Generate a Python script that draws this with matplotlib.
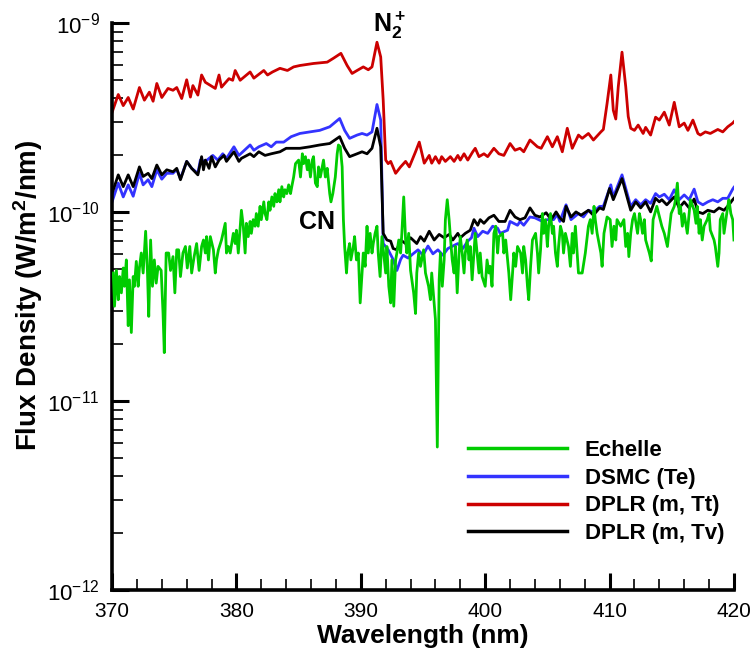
import numpy as np
import matplotlib
matplotlib.use("Agg")
import matplotlib.pyplot as plt
from matplotlib.ticker import MultipleLocator, LogLocator, NullFormatter, FixedLocator, FixedFormatter

plt.rcParams['font.family'] = ['Liberation Sans', 'DejaVu Sans']
plt.rcParams['mathtext.fontset'] = 'custom'
plt.rcParams['mathtext.rm'] = 'Liberation Sans'
plt.rcParams['mathtext.bf'] = 'Liberation Sans:bold'
plt.rcParams['mathtext.it'] = 'Liberation Sans:italic'

UNIT = 1e-10  # all flux values below are in units of 1e-10 W/m^2/nm

# ---------------- DPLR (m, Tt) -- red ----------------
wl_tt = [370.0, 370.5, 370.9, 371.3, 371.7, 372.2, 372.6, 373.0, 373.3, 373.6, 374.0, 374.5, 374.9,
         375.2, 375.6, 376.0, 376.3, 376.5, 376.9, 377.2, 377.5, 378.3, 378.6, 378.8, 379.4, 379.7,
         379.9, 380.3, 381.1, 381.4, 382.2, 382.5, 382.9, 383.5, 384.1, 384.6, 385.1, 386.2, 387.3,
         387.8, 388.4, 388.9, 389.3, 389.7, 390.2, 390.6, 390.9, 391.3, 391.6, 391.8, 392.0, 392.2,
         392.4, 392.8, 393.2, 393.6, 393.9, 394.4, 394.7, 395.1, 395.5, 395.7, 396.0, 396.3, 396.5,
         396.8, 397.2, 397.5, 397.8, 398.0, 398.3, 398.6, 399.0, 399.2, 399.5, 399.9, 400.2, 400.7,
         401.1, 401.5, 402.0, 402.4, 402.8, 403.1, 403.6, 404.2, 404.5, 405.0, 405.4, 405.8, 406.2,
         406.6, 407.0, 407.5, 407.8, 408.3, 408.7, 409.3, 409.5, 409.8, 410.1, 410.3, 410.5, 410.7,
         411.0, 411.3, 411.5, 411.7, 412.0, 412.3, 412.7, 412.9, 413.3, 413.7, 414.0, 414.4, 414.8,
         415.2, 415.6, 416.0, 416.3, 416.7, 417.1, 417.3, 417.7, 418.1, 418.7, 419.1, 419.5, 419.9,
         420.0]
fx_tt = [3.36, 4.18, 3.65, 4.03, 3.5, 4.55, 3.9, 4.3, 3.85, 4.78, 4.03, 4.5, 4.4,
         4.55, 3.98, 5.0, 4.05, 4.66, 4.15, 5.3, 4.85, 4.5, 5.3, 4.57, 5.07, 4.97,
         5.6, 4.97, 5.5, 5.1, 5.6, 5.3, 5.5, 5.75, 5.6, 5.85, 5.95, 6.1, 6.2,
         6.5, 6.9, 5.95, 5.4, 5.6, 5.85, 5.65, 5.85, 7.9, 6.6, 3.9, 1.88, 1.8,
         1.85, 1.6, 1.73, 1.85, 1.73, 2.08, 2.34, 1.81, 1.99, 1.81, 1.96, 1.81, 1.96,
         1.85, 1.96, 1.85, 1.99, 1.88, 2.03, 1.88, 2.08, 2.17, 1.96, 2.03, 1.96, 2.17,
         2.03, 1.99, 2.3, 2.12, 2.17, 2.08, 2.4, 2.21, 2.17, 2.5, 2.21, 2.5, 2.08,
         2.77, 2.17, 2.55, 2.45, 2.6, 2.4, 2.65, 2.73, 3.75, 5.3, 3.45, 3.1, 4.6,
         7.0, 4.6, 3.2, 2.77, 2.7, 2.88, 2.6, 2.8, 2.55, 3.17, 3.06, 3.37, 2.88,
         3.8, 2.82, 2.95, 2.7, 3.06, 2.6, 2.55, 2.65, 2.6, 2.73, 2.65, 2.82, 2.95,
         3.0]

# ---------------- DSMC (Te) -- blue ----------------
wl_te = [370.0, 370.5, 370.9, 371.3, 371.7, 372.2, 372.5, 372.9, 373.2, 373.6, 374.0, 374.4, 374.9,
         375.2, 375.5, 376.0, 376.4, 376.9, 377.1, 377.5, 378.1, 378.5, 378.9, 379.2, 379.8, 380.2,
         381.1, 381.4, 381.8, 382.4, 382.8, 383.2, 383.8, 384.4, 385.1, 385.9, 386.7, 387.5, 388.3,
         388.7, 389.1, 389.7, 390.1, 390.5, 390.9, 391.3, 391.6, 391.8, 392.2, 392.6, 392.9, 393.2,
         393.4, 393.8, 394.2, 394.6, 395.0, 395.4, 395.8, 396.2, 396.6, 397.0, 397.4, 397.8, 398.2,
         398.6, 398.9, 399.1, 399.4, 399.8, 400.2, 400.6, 401.0, 401.2, 401.8, 402.0, 402.6, 402.8,
         403.1, 403.6, 404.0, 404.6, 405.0, 405.5, 405.8, 406.0, 406.5, 406.9, 407.5, 407.9, 408.3,
         408.7, 409.2, 409.5, 410.1, 410.3, 411.0, 411.7, 412.1, 412.5, 412.9, 413.3, 413.7, 414.0,
         414.4, 414.8, 415.2, 415.6, 416.0, 416.4, 416.8, 417.1, 417.5, 417.9, 418.3, 418.7, 419.1,
         419.5, 419.9, 420.0]
fx_te = [1.13, 1.42, 1.2, 1.39, 1.21, 1.6, 1.39, 1.48, 1.36, 1.67, 1.49, 1.6, 1.6,
         1.68, 1.5, 1.85, 1.7, 1.6, 1.88, 1.85, 1.99, 1.88, 2.03, 1.92, 2.21, 1.99,
         2.26, 2.12, 2.21, 2.3, 2.21, 2.34, 2.34, 2.5, 2.6, 2.65, 2.7, 2.82, 3.12,
         2.7, 2.45, 2.55, 2.6, 2.55, 2.65, 3.7, 3.06, 0.68, 0.63, 0.56, 0.49, 0.56,
         0.59, 0.57, 0.60, 0.63, 0.59, 0.66, 0.60, 0.63, 0.59, 0.64, 0.66, 0.68, 0.64,
         0.70, 0.73, 0.82, 0.74, 0.79, 0.77, 0.84, 0.82, 0.77, 0.80, 0.89, 0.85, 0.89,
         0.85, 0.94, 0.93, 0.89, 0.91, 0.91, 0.97, 0.89, 1.09, 0.91, 0.98, 0.94, 1.02,
         1.0, 1.07, 1.07, 1.39, 1.2, 1.57, 1.07, 1.16, 1.09, 1.16, 1.11, 1.25, 1.2,
         1.24, 1.16, 1.31, 1.16, 1.23, 1.16, 1.32, 1.13, 1.09, 1.13, 1.16, 1.13, 1.18,
         1.18, 1.32, 1.35]

# ---------------- DPLR (m, Tv) -- black ----------------
wl_tv = [370.0, 370.5, 370.9, 371.3, 371.7, 372.2, 372.5, 372.9, 373.2, 373.6, 374.0, 374.4, 374.9,
         375.2, 375.5, 376.0, 376.4, 376.9, 377.2, 377.35, 377.5, 377.8, 378.0, 378.3, 378.6, 379.0,
         379.2, 379.8, 380.2, 380.4, 381.1, 381.4, 381.8, 382.3, 382.8, 383.5, 384.0, 384.4, 385.1,
         385.9, 386.7, 387.5, 388.3, 388.7, 389.1, 389.7, 390.1, 390.5, 390.9, 391.3, 391.6, 391.8,
         392.1, 392.4, 392.6, 392.9, 393.2, 393.6, 394.0, 394.5, 394.8, 395.1, 395.5, 395.9, 396.3,
         396.7, 397.1, 397.4, 397.8, 398.0, 398.4, 398.8, 399.1, 399.4, 399.6, 399.9, 400.3, 400.7,
         401.1, 401.6, 402.0, 402.4, 402.8, 403.2, 403.6, 404.0, 404.4, 404.9, 405.3, 405.7, 406.0,
         406.3, 406.5, 406.9, 407.3, 407.7, 408.3, 408.7, 409.2, 409.5, 410.0, 410.3, 411.0, 411.7,
         412.1, 412.5, 412.9, 413.3, 413.7, 414.0, 414.2, 414.6, 415.2, 415.6, 416.0, 416.4, 416.8,
         417.1, 417.5, 417.9, 418.4, 418.8, 419.2, 419.6, 419.9, 420.0]
fx_tv = [1.25, 1.57, 1.36, 1.57, 1.36, 1.73, 1.54, 1.6, 1.5, 1.77, 1.57, 1.67, 1.63,
         1.7, 1.48, 1.85, 1.7, 1.57, 1.96, 1.67, 1.88, 1.7, 1.96, 1.73, 1.88, 1.99,
         1.85, 2.08, 1.85, 1.92, 2.03, 1.96, 2.08, 1.99, 2.03, 2.08, 2.17, 2.17, 2.17,
         2.21, 2.26, 2.3, 2.5, 2.17, 1.96, 2.03, 2.08, 2.03, 2.17, 2.77, 2.21, 0.77,
         0.71, 0.70, 0.64, 0.63, 0.71, 0.68, 0.73, 0.68, 0.74, 0.70, 0.79, 0.71, 0.76,
         0.73, 0.76, 0.71, 0.77, 0.73, 0.77, 0.80, 0.91, 0.85, 0.91, 0.87, 0.93, 0.96,
         0.89, 0.89, 1.02, 0.94, 0.91, 0.93, 1.05, 0.96, 0.94, 0.99, 0.91, 1.0, 0.93,
         0.89, 1.07, 0.94, 1.0, 0.96, 1.02, 0.96, 1.05, 1.03, 1.33, 1.16, 1.5, 1.02,
         1.13, 1.05, 1.13, 1.0, 1.18, 1.13, 1.16, 1.09, 1.2, 1.05, 1.13, 1.05, 1.17,
         1.0, 0.98, 1.02, 1.0, 1.05, 1.02, 1.09, 1.16, 1.18]

# ---------------- Echelle -- green ----------------
wl_ech = [370.1, 370.2, 370.35, 370.5, 370.6, 370.75, 370.9, 371.0, 371.15, 371.3, 371.4, 371.55,
          371.7, 371.8, 371.95, 372.1, 372.2, 372.35, 372.5, 372.7, 372.85, 372.95, 373.1, 373.25,
          373.4, 373.55, 373.7, 373.95, 374.1, 374.2, 374.35, 374.55, 374.7, 374.9, 375.05, 375.2,
          375.35, 375.5, 375.7, 375.9, 376.05, 376.25, 376.4, 376.6, 376.8, 377.0, 377.2, 377.35,
          377.5, 377.6, 377.75, 377.9, 378.15, 378.3, 378.4, 378.55, 378.8, 379.1, 379.2, 379.35,
          379.5, 379.75, 379.9, 380.0, 380.15, 380.4, 380.55, 380.7, 380.8, 380.95, 381.1, 381.2,
          381.35, 381.5, 381.6, 381.75, 381.9, 382.0, 382.2, 382.3, 382.45, 382.6, 382.7, 382.85,
          383.0, 383.1, 383.25, 383.4, 383.5, 383.65, 383.8, 383.9, 384.05, 384.2, 384.35, 384.45,
          384.6, 384.75, 385.0, 385.15, 385.3, 385.4, 385.55, 385.7, 385.8, 385.95, 386.1, 386.2,
          386.35, 386.5, 386.6, 386.75, 387.0, 387.15, 387.3, 387.5, 387.6, 387.75, 387.95, 388.1,
          388.2, 388.35, 388.5, 388.6, 388.7, 388.85, 388.95, 389.1, 389.2, 389.4, 389.5, 389.65,
          389.8, 389.95, 390.1, 390.2, 390.35, 390.5, 390.6, 390.75, 390.9, 391.0, 391.15, 391.3,
          391.4, 391.55, 391.7, 392.0, 392.1, 392.25, 392.4, 392.5, 392.65, 392.8, 392.9, 393.05,
          393.2, 393.3, 393.45, 393.6, 393.7, 393.85, 394.0, 394.25, 394.4, 394.5, 394.65, 394.8,
          394.9, 395.05, 395.2, 395.45, 395.6, 395.7, 396.0, 396.15, 396.3, 396.4, 396.55, 396.7,
          396.8, 396.95, 397.1, 397.2, 397.35, 397.5, 397.6, 397.75, 397.9, 398.0, 398.15, 398.3,
          398.4, 398.55, 398.7, 398.8, 398.95, 399.2, 399.5, 399.6, 399.75, 400.0, 400.15, 400.3,
          400.4, 400.55, 400.7, 400.85, 401.0, 401.1, 401.4, 401.5, 401.65, 401.8, 401.9, 402.05,
          402.2, 402.3, 402.45, 402.6, 402.85, 403.0, 403.1, 403.25, 403.4, 403.5, 403.65, 403.8,
          404.05, 404.2, 404.3, 404.45, 404.6, 404.7, 404.85, 405.0, 405.1, 405.25, 405.4, 405.5,
          405.65, 405.8, 405.9, 406.05, 406.2, 406.3, 406.45, 406.7, 406.85, 407.0, 407.1, 407.25,
          407.5, 407.8, 408.05, 408.3, 408.45, 408.6, 408.75, 408.85, 409.0, 409.3, 409.4, 409.55,
          409.8, 410.05, 410.2, 410.35, 410.5, 410.6, 410.9, 411.15, 411.3, 411.45, 411.55, 411.7,
          411.85, 412.0, 412.25, 412.4, 412.5, 412.65, 412.8, 412.9, 413.2, 413.35, 413.5, 413.8,
          414.2, 414.4, 414.65, 414.95, 415.2, 415.3, 415.45, 415.6, 415.7, 415.85, 416.0, 416.25,
          416.4, 416.5, 416.8, 416.95, 417.05, 417.2, 417.3, 417.45, 417.6, 417.85, 418.0, 418.1,
          418.4, 418.5, 418.7, 418.8, 418.9, 419.1, 419.2, 419.35, 419.5, 419.6, 419.75, 419.9,
          420.0]
fx_ech = [0.475, 0.317, 0.49, 0.343, 0.455, 0.373, 0.505, 0.404, 0.557, 0.25, 0.437, 0.23,
          0.455, 0.404, 0.547, 0.404, 0.505, 0.606, 0.475, 0.79, 0.475, 0.28, 0.71, 0.404,
          0.557, 0.42, 0.515, 0.49, 0.29, 0.18, 0.606, 0.606, 0.49, 0.58, 0.373, 0.63,
          0.63, 0.455, 0.606, 0.656, 0.505, 0.656, 0.475, 0.58, 0.68, 0.49, 0.656, 0.71,
          0.606, 0.74, 0.557, 0.74, 0.63, 0.475, 0.557, 0.63, 0.71, 0.87, 0.606, 0.656,
          0.606, 0.77, 0.68, 0.80, 0.606, 1.02, 0.84, 0.606, 0.87, 0.74, 0.89, 0.77,
          0.91, 0.84, 0.98, 0.84, 1.07, 0.91, 1.13, 0.98, 0.91, 1.13, 1.02, 1.2,
          1.07, 1.25, 1.13, 1.31, 1.13, 1.36, 1.2, 1.31, 1.25, 1.39, 1.25, 1.36,
          1.53, 1.8, 1.88, 1.53, 2.03, 1.8, 1.96, 1.67, 1.88, 1.53, 1.88, 1.96,
          1.42, 1.36, 1.73, 1.53, 1.88, 1.53, 1.7, 1.25, 1.13, 1.25, 1.53, 2.03,
          2.26, 2.21, 1.73, 0.91, 0.656, 0.475, 0.606, 0.68, 0.557, 0.656, 0.74, 0.557,
          0.606, 0.33, 0.475, 0.606, 0.515, 0.84, 0.606, 0.77, 0.606, 0.68, 0.77, 0.84,
          0.606, 0.455, 0.74, 0.475, 0.656, 0.404, 0.33, 0.557, 0.317, 0.557, 0.606, 0.71,
          0.606, 0.77, 1.2, 0.71, 0.606, 0.77, 0.49, 0.373, 0.29, 0.475, 0.606, 0.515,
          0.557, 0.63, 0.475, 0.404, 0.343, 0.475, 0.27, 0.057, 0.437, 0.606, 0.404, 0.557,
          0.91, 1.16, 0.91, 0.74, 0.557, 0.475, 0.656, 0.373, 0.606, 0.74, 0.606, 0.475,
          0.606, 0.71, 0.557, 0.656, 0.437, 0.77, 0.475, 0.606, 0.455, 0.404, 0.557, 0.475,
          0.515, 0.404, 0.77, 0.84, 0.606, 0.74, 0.77, 0.606, 0.71, 0.557, 0.475, 0.343,
          0.475, 0.606, 0.515, 0.656, 0.606, 0.475, 0.656, 0.557, 0.404, 0.343, 0.515, 0.71,
          0.77, 0.606, 0.475, 0.63, 0.98, 0.77, 0.91, 0.656, 0.84, 0.98, 0.77, 0.84,
          0.606, 0.515, 0.656, 0.84, 0.77, 0.606, 0.77, 0.656, 0.515, 0.77, 0.606, 0.84,
          0.475, 0.475, 0.606, 0.84, 0.91, 0.77, 1.07, 0.91, 0.77, 0.606, 0.515, 0.77,
          0.94, 0.91, 0.656, 0.84, 0.71, 0.91, 0.84, 0.91, 0.656, 0.77, 0.58, 0.77,
          0.91, 0.98, 0.77, 0.98, 0.91, 0.77, 0.91, 0.71, 0.606, 0.55, 0.91, 1.07,
          0.84, 0.77, 0.656, 0.98, 1.07, 1.16, 1.42, 0.98, 1.07, 0.84, 0.98, 0.77,
          0.98, 1.16, 1.02, 0.87, 1.07, 0.77, 0.91, 0.71, 0.84, 0.91, 0.98, 0.80,
          0.71, 0.656, 0.515, 0.606, 0.91, 0.98, 0.77, 0.91, 1.07, 1.16, 0.98, 0.91,
          0.71]

series = [
    ("Echelle", wl_ech, fx_ech, "#00cc00", 5),
    ("DSMC (Te)", wl_te, fx_te, "#3333ff", 2),
    ("DPLR (m, Tt)", wl_tt, fx_tt, "#cc0000", 2),
    ("DPLR (m, Tv)", wl_tv, fx_tv, "#000000", 3),
]

fig = plt.figure(figsize=(7.52, 6.54), dpi=100)
ax = fig.add_axes([0.149, 0.098, 0.827, 0.867])

for label, wl, fx, color, z in series:
    ax.plot(wl, np.array(fx) * UNIT, color=color, lw=2.0, label=label, zorder=z,
            solid_joinstyle='round')

ax.set_yscale('log')
ax.set_xlim(370, 420)
ax.set_ylim(1e-12, 1e-9)

ax.xaxis.set_major_locator(MultipleLocator(10))
ax.xaxis.set_minor_locator(MultipleLocator(2))
ax.yaxis.set_major_locator(FixedLocator([1e-12, 1e-11, 1e-10, 1e-9]))
ax.yaxis.set_major_formatter(FixedFormatter([r'$\mathregular{10^{-12}}$', r'$\mathregular{10^{-11}}$',
                                             r'$\mathregular{10^{-10}}$', r'$\mathregular{10^{-9}}$']))
ax.yaxis.set_minor_locator(LogLocator(base=10, subs=np.arange(2, 10)))
ax.yaxis.set_minor_formatter(NullFormatter())

ax.tick_params(which='major', direction='in', length=12, width=2.2)
ax.tick_params(which='minor', direction='in', length=8, width=1.2)
ax.tick_params(axis='x', which='major', labelsize=15, pad=9)
ax.tick_params(axis='y', which='major', labelsize=16, pad=9)
ax.tick_params(top=False, right=False, which='both')

for s in ['top', 'right']:
    ax.spines[s].set_visible(False)
for s in ['left', 'bottom']:
    ax.spines[s].set_linewidth(2.6)

ax.set_xlabel('Wavelength (nm)', fontsize=19, fontweight='bold', labelpad=2)
ax.set_ylabel(r'Flux Density (W/m$\mathbf{^2}$/nm)', fontsize=20, fontweight='bold')
ax.yaxis.set_label_coords(-0.108, 0.52)

ax.text(391.0, 8.96e-10, r'$\mathbf{N_2^+}$', fontsize=18, ha='left', va='baseline',
        clip_on=False, zorder=10)
ax.text(386.5, 0.885e-10, 'CN', fontsize=18, fontweight='bold', ha='center', va='center',
        zorder=10)

leg = ax.legend(loc='center left', bbox_to_anchor=(468 / 752, 1 - 492 / 654),
                bbox_transform=fig.transFigure, frameon=False,
                prop={'weight': 'bold', 'size': 16}, handlelength=4.45, handletextpad=0.8,
                labelspacing=0.3, borderpad=0, borderaxespad=0)
for h in leg.get_lines():
    h.set_linewidth(2.5)

fig.savefig('out.png', dpi=100)
